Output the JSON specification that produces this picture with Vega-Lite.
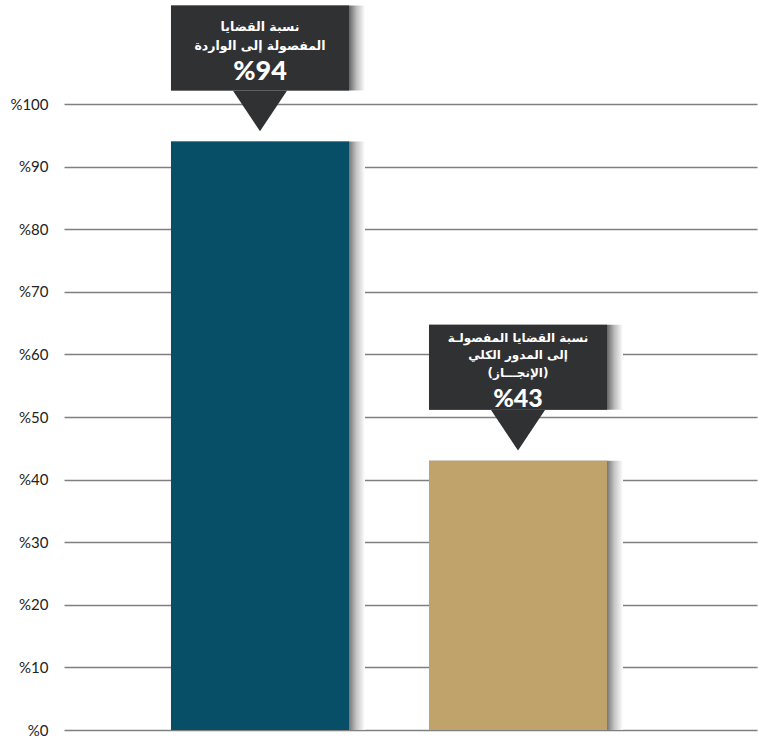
{
  "$schema": "https://vega.github.io/schema/vega-lite/v6.json",
  "width": 693,
  "height": 626,
  "autosize": {"type": "none"},
  "padding": {"left": 64, "top": 104, "right": 1, "bottom": 8},
  "background": "#ffffff",
  "config": {"view": {"stroke": null}, "text": {"lineBreak": "\n"}},
  "data": {
    "values": [
      {"key": "a", "value": 94, "label": "نسبة القضايا\nالمفصولة إلى الواردة", "pct": "%94"},
      {"key": "b", "value": 43, "label": "نسبة القضايا المفصولـة\nإلى المدور الكلي\n(الإنجـــاز)", "pct": "%43"}
    ]
  },
  "encoding": {
    "x": {
      "field": "key", "type": "nominal", "sort": null,
      "scale": {"paddingInner": 0.3101, "paddingOuter": 0.498, "align": 0.4163},
      "axis": null
    }
  },
  "layer": [
    {
      "mark": {
        "type": "bar", "width": 194, "xOffset": 8,
        "color": {"gradient": "linear", "x1": 0, "y1": 0, "x2": 1, "y2": 0,
          "stops": [{"offset": 0, "color": "#777777"}, {"offset": 0.918, "color": "#777777"}, {"offset": 0.955, "color": "#c4c4c4"}, {"offset": 1, "color": "#ffffff"}]}
      },
      "encoding": {
        "y": {
          "field": "value", "type": "quantitative",
          "scale": {"domain": [0, 100], "nice": false},
          "axis": {
            "values": [0, 10, 20, 30, 40, 50, 60, 70, 80, 90, 100],
            "labelExpr": "'%' + datum.value",
            "title": null, "domain": false, "ticks": false,
            "labelPadding": 16, "labelFont": "Lato", "labelFontSize": 15,
            "labelColor": "#222222", "labelFontWeight": "normal",
            "grid": true, "gridColor": "#7f7f7f", "gridWidth": 1.5,
            "zindex": 0
          }
        }
      }
    },
    {
      "mark": {"type": "bar", "width": 178},
      "encoding": {
        "y": {"field": "value", "type": "quantitative"},
        "color": {"field": "key", "type": "nominal", "scale": {"range": ["#064f66", "#c0a36b"]}, "legend": null}
      }
    },
    {
      "mark": {
        "type": "bar", "width": 194, "xOffset": 8, "yOffset": -136, "y2Offset": -51, "clip": false,
        "color": {"gradient": "linear", "x1": 0, "y1": 0, "x2": 1, "y2": 0,
          "stops": [{"offset": 0, "color": "#666666"}, {"offset": 0.918, "color": "#666666"}, {"offset": 0.955, "color": "#bbbbbb"}, {"offset": 1, "color": "#ffffff"}]}
      },
      "encoding": {
        "y": {"field": "value", "type": "quantitative"},
        "y2": {"field": "value"}
      }
    },
    {
      "mark": {"type": "bar", "width": 178, "yOffset": -136, "y2Offset": -51, "color": "#2f3133", "clip": false},
      "encoding": {
        "y": {"field": "value", "type": "quantitative"},
        "y2": {"field": "value"}
      }
    },
    {
      "mark": {"type": "point", "shape": "M-1,-0.75L1,-0.75L0,0.75Z", "size": 2916, "filled": true, "color": "#2f3133", "opacity": 1, "yOffset": -30.5, "clip": false},
      "encoding": {
        "y": {"field": "value", "type": "quantitative"}
      }
    },
    {
      "transform": [{"filter": "datum.key == 'a'"}],
      "mark": {"type": "text", "font": "DejaVu Sans", "fontWeight": "bold", "fontSize": 12.5, "lineHeight": 19, "color": "#ffffff", "baseline": "middle", "align": "center", "yOffset": -115, "clip": false},
      "encoding": {
        "y": {"field": "value", "type": "quantitative"},
        "text": {"field": "label"}
      }
    },
    {
      "transform": [{"filter": "datum.key == 'b'"}],
      "mark": {"type": "text", "font": "DejaVu Sans", "fontWeight": "bold", "fontSize": 12, "lineHeight": 17.5, "color": "#ffffff", "baseline": "middle", "align": "center", "yOffset": -123, "clip": false},
      "encoding": {
        "y": {"field": "value", "type": "quantitative"},
        "text": {"field": "label"}
      }
    },
    {
      "transform": [{"filter": "datum.key == 'a'"}],
      "mark": {"type": "text", "font": "Lato", "fontWeight": 900, "fontSize": 27, "color": "#ffffff", "baseline": "middle", "align": "center", "yOffset": -70, "clip": false},
      "encoding": {
        "y": {"field": "value", "type": "quantitative"},
        "text": {"field": "pct"}
      }
    },
    {
      "transform": [{"filter": "datum.key == 'b'"}],
      "mark": {"type": "text", "font": "Lato", "fontWeight": 900, "fontSize": 25, "color": "#ffffff", "baseline": "middle", "align": "center", "yOffset": -62, "clip": false},
      "encoding": {
        "y": {"field": "value", "type": "quantitative"},
        "text": {"field": "pct"}
      }
    }
  ]
}
